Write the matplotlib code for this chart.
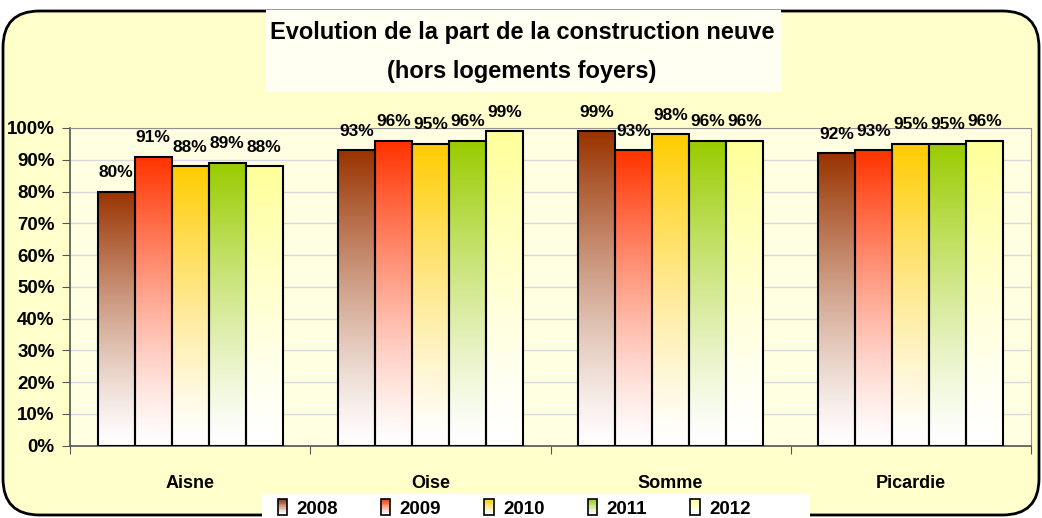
import numpy as np
import matplotlib.pyplot as plt
from matplotlib.patches import Rectangle, FancyBboxPatch
from matplotlib.colors import to_rgb
from matplotlib.legend_handler import HandlerBase

plt.rcParams["font.family"] = ["Liberation Sans", "DejaVu Sans"]
plt.rcParams["font.weight"] = "bold"

categories = ["Aisne", "Oise", "Somme", "Picardie"]
years = ["2008", "2009", "2010", "2011", "2012"]
colors = ["#993300", "#FF3300", "#FFCC00", "#99CC00", "#FFFF99"]

# share of new construction per year, one list per year (Aisne, Oise, Somme, Picardie)
v2008 = [0.80, 0.93, 0.99, 0.92]
v2009 = [0.91, 0.96, 0.93, 0.93]
v2010 = [0.88, 0.95, 0.98, 0.95]
v2011 = [0.89, 0.96, 0.96, 0.95]
v2012 = [0.88, 0.99, 0.96, 0.96]
values = [v2008, v2009, v2010, v2011, v2012]


def gradient(color, n=200):
    # white at the bottom of the bar, full colour at its top
    c = np.array(to_rgb(color))
    t = np.linspace(0, 1, n) ** 1.25
    rgb = 1 - t[:, None] * (1 - c[None, :])
    return rgb[:, None, :]


class GradientHandler(HandlerBase):
    def create_artists(self, legend, orig_handle, xdescent, ydescent,
                       width, height, fontsize, trans):
        h = height * 1.25
        y0 = -ydescent - 1
        arts = []
        n = 10
        g = gradient(orig_handle.get_label_color, n)
        for i in range(n):
            arts.append(Rectangle((0, y0 + h * i / n), width, h / n,
                                  facecolor=g[i, 0], edgecolor="none", transform=trans))
        arts.append(Rectangle((0, y0), width, h, facecolor="none",
                              edgecolor="black", lw=1.2, transform=trans))
        return arts


fig = plt.figure(figsize=(10.42, 5.18), dpi=100)
fig.patch.set_facecolor("white")

# rounded yellow frame
frame = FancyBboxPatch((3 / 1042, 3 / 518), 1036 / 1042, 504 / 518,
                       boxstyle="round,pad=0,rounding_size=0.035",
                       mutation_aspect=1042 / 518,
                       transform=fig.transFigure, facecolor="#FFFFCC",
                       edgecolor="black", lw=2, zorder=-2)
fig.patches.append(frame)

# title on its light box
fig.patches.append(Rectangle((266 / 1042, 1 - 92 / 518), 515 / 1042, 82 / 518,
                             transform=fig.transFigure, facecolor="#FFFFF2",
                             edgecolor="none", zorder=-1))
# white legend box
fig.patches.append(Rectangle((262 / 1042, 0), 548 / 1042, 24 / 518,
                             transform=fig.transFigure, facecolor="white",
                             edgecolor="none", zorder=-1))

ax = fig.add_axes([70 / 1042, 1 - 445.7 / 518, 961 / 1042, (445.7 - 128) / 518])
ax.set_zorder(1)
ax.set_facecolor("#FFFFE2")

x = np.arange(len(categories))
w = 37 / 240
for k, (vals, col) in enumerate(zip(values, colors)):
    for i, v in enumerate(vals):
        x0 = x[i] + (k - 2.5) * w
        ax.imshow(gradient(col), extent=(x0, x0 + w, 0, v), origin="lower",
                  aspect="auto", zorder=2, interpolation="bilinear")
        ax.add_patch(Rectangle((x0, 0), w, v, facecolor="none",
                               edgecolor="black", lw=1.5, zorder=3))
        ax.text(x0 + w / 2, v + 0.06, f"{v:.0%}", ha="center", va="center",
                fontsize=12.5, fontweight="bold", zorder=4, clip_on=False)

ax.set_xlim(-0.5, len(categories) - 0.5)
ax.set_ylim(0, 1)
ax.set_yticks(np.arange(0, 1.01, 0.1))
ax.set_yticklabels([f"{int(round(t * 100))}%" for t in np.arange(0, 1.01, 0.1)],
                   fontsize=13.5, fontweight="bold")
ax.set_xticks(np.arange(-0.5, len(categories), 1))
ax.set_xticklabels([])
ax.set_xticks(x, minor=True)
ax.set_xticklabels(categories, minor=True, fontsize=13, fontweight="bold")
ax.tick_params(axis="x", which="minor", length=0, pad=21)
ax.tick_params(axis="x", which="major", length=6, color="#555555")
ax.tick_params(axis="y", length=6, color="#555555", pad=5)
ax.grid(axis="y", color="#D8D8E0", lw=1, zorder=0)
ax.set_axisbelow(True)
for s in ["top", "right"]:
    ax.spines[s].set_color("#909090")
for s in ["left", "bottom"]:
    ax.spines[s].set_color("#555555")
    ax.spines[s].set_linewidth(1.2)

fig.text(522 / 1042, 1 - 33 / 518, "Evolution de la part de la construction neuve",
         ha="center", va="center", fontsize=17, fontweight="bold")
fig.text(522 / 1042, 1 - 71 / 518, "(hors logements foyers)",
         ha="center", va="center", fontsize=17, fontweight="bold")

handles = []
for yr, col in zip(years, colors):
    h = Rectangle((0, 0), 1, 1, label=yr)
    h.get_label_color = col
    handles.append(h)
leg = fig.legend(handles=handles, labels=years, ncol=5, loc="upper center",
                 bbox_to_anchor=(514 / 1042, 1 - 494 / 518),
                 handler_map={Rectangle: GradientHandler()},
                 prop={"size": 13.5, "weight": "bold"}, frameon=False,
                 columnspacing=2.3, handlelength=0.5,
                 handletextpad=0.5, borderpad=0.35, borderaxespad=0)

fig.savefig("out.png", dpi=100)
